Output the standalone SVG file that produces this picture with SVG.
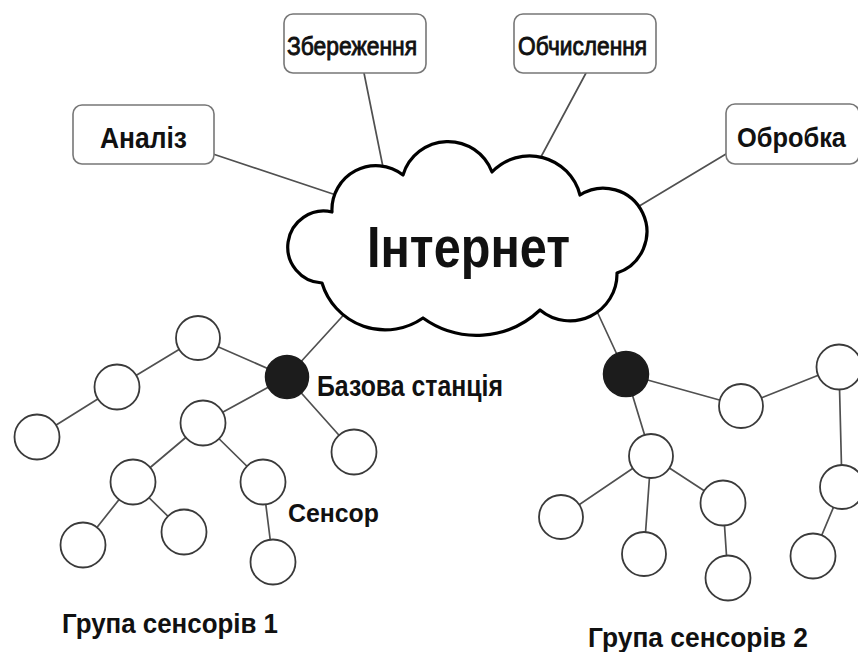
<svg xmlns="http://www.w3.org/2000/svg" width="858" height="652" viewBox="0 0 858 652">
  <style>
    .box { fill: #ffffff; stroke: #777777; stroke-width: 1.6; }
    .link { stroke: #505050; stroke-width: 1.7; fill: none; stroke-linecap: round; }
    .sensor { fill: #ffffff; stroke: #3a3a3a; stroke-width: 1.8; }
    .base { fill: #1c1c1c; stroke: #1c1c1c; stroke-width: 1.5; }
    .cloud { fill: #ffffff; stroke: #000000; stroke-width: 3.2; stroke-linejoin: round; }
    .lbl { font-family: "Liberation Sans Narrow", "Liberation Sans", Arial, sans-serif; font-weight: bold; fill: #111111; }
    .lbl-light { font-family: "Liberation Sans Narrow", "Liberation Sans", Arial, sans-serif; font-weight: normal; fill: #111111; stroke: #111111; stroke-width: 0.9; }
  </style>

  <!-- connectors -->
  <g id="connectors">
    <!-- services to cloud -->
    <line class="link" x1="213" y1="154" x2="345" y2="198"/>
    <line class="link" x1="364" y1="73" x2="386" y2="182"/>
    <line class="link" x1="586" y1="73" x2="535" y2="168"/>
    <line class="link" x1="726" y1="154" x2="626" y2="214"/>
    <!-- base stations to cloud -->
    <line class="link" x1="287" y1="377" x2="350" y2="308"/>
    <line class="link" x1="626" y1="374" x2="588" y2="292"/>
    <!-- sensor group 1 -->
    <line class="link" x1="198" y1="338" x2="117" y2="387"/>
    <line class="link" x1="198" y1="338" x2="287" y2="377"/>
    <line class="link" x1="117" y1="387" x2="37" y2="437"/>
    <line class="link" x1="287" y1="377" x2="203" y2="423"/>
    <line class="link" x1="287" y1="377" x2="354" y2="452"/>
    <line class="link" x1="203" y1="423" x2="133" y2="482"/>
    <line class="link" x1="203" y1="423" x2="263" y2="482"/>
    <line class="link" x1="133" y1="482" x2="83" y2="545"/>
    <line class="link" x1="133" y1="482" x2="184" y2="532"/>
    <line class="link" x1="263" y1="482" x2="273" y2="562"/>
    <!-- sensor group 2 -->
    <line class="link" x1="626" y1="374" x2="741" y2="406"/>
    <line class="link" x1="741" y1="406" x2="839" y2="367"/>
    <line class="link" x1="626" y1="374" x2="651" y2="456"/>
    <line class="link" x1="651" y1="456" x2="561" y2="517"/>
    <line class="link" x1="651" y1="456" x2="644" y2="554"/>
    <line class="link" x1="651" y1="456" x2="723" y2="503"/>
    <line class="link" x1="723" y1="503" x2="728" y2="578"/>
    <line class="link" x1="839" y1="367" x2="842" y2="487"/>
    <line class="link" x1="842" y1="487" x2="813" y2="556"/>
  </g>

  <!-- internet cloud -->
  <g id="internet">
    <path class="cloud" d="M 332 212 A 44 44 0 0 1 403 175 A 47 47 0 0 1 492 172 A 52 52 0 0 1 580 195 A 43.5 43.5 0 1 1 617 273 A 47 47 0 0 1 540 310 A 92 92 0 0 1 423 318 A 66 66 0 0 1 322 283 A 36 36 0 1 1 332 212 Z"/>
    <text class="lbl" x="367" y="267" font-size="58" textLength="203" lengthAdjust="spacingAndGlyphs">Інтернет</text>
  </g>

  <!-- service boxes -->
  <g id="analysis">
    <rect class="box" x="73" y="105" width="141" height="59" rx="9"/>
    <text class="lbl" x="100" y="148" font-size="29" textLength="87" lengthAdjust="spacingAndGlyphs">Аналіз</text>
  </g>
  <g id="storage">
    <rect class="box" x="284" y="14" width="142" height="59" rx="9"/>
    <text class="lbl-light" x="287" y="55" font-size="26" textLength="130" lengthAdjust="spacingAndGlyphs">Збереження</text>
  </g>
  <g id="computing">
    <rect class="box" x="514" y="14" width="142" height="59" rx="9"/>
    <text class="lbl-light" x="518" y="55" font-size="26" textLength="129" lengthAdjust="spacingAndGlyphs">Обчислення</text>
  </g>
  <g id="processing">
    <rect class="box" x="726" y="104" width="133" height="60" rx="9"/>
    <text class="lbl" x="737" y="147" font-size="27.5" textLength="109" lengthAdjust="spacingAndGlyphs">Обробка</text>
  </g>

  <!-- sensor group 1 -->
  <g id="group1">
    <circle class="sensor" cx="198" cy="338" r="22"/>
    <circle class="sensor" cx="117" cy="387" r="22.5"/>
    <circle class="sensor" cx="37" cy="437" r="22.5"/>
    <circle class="sensor" cx="203" cy="423" r="22.5"/>
    <circle class="sensor" cx="354" cy="452" r="22.5"/>
    <circle class="sensor" cx="133" cy="482" r="22.5"/>
    <circle class="sensor" cx="263" cy="482" r="22.5"/>
    <circle class="sensor" cx="83" cy="545" r="22.5"/>
    <circle class="sensor" cx="184" cy="532" r="22.5"/>
    <circle class="sensor" cx="273" cy="562" r="22.5"/>
  </g>
  <g id="base1">
    <circle class="base" cx="287" cy="377" r="21.5"/>
  </g>

  <!-- sensor group 2 -->
  <g id="group2">
    <circle class="sensor" cx="741" cy="406" r="22"/>
    <circle class="sensor" cx="839" cy="367" r="22.5"/>
    <circle class="sensor" cx="651" cy="456" r="22"/>
    <circle class="sensor" cx="561" cy="517" r="22"/>
    <circle class="sensor" cx="644" cy="554" r="22"/>
    <circle class="sensor" cx="723" cy="503" r="22.5"/>
    <circle class="sensor" cx="728" cy="578" r="22.5"/>
    <circle class="sensor" cx="842" cy="487" r="22"/>
    <circle class="sensor" cx="813" cy="556" r="22.5"/>
  </g>
  <g id="base2">
    <circle class="base" cx="626" cy="374" r="22.5"/>
  </g>

  <!-- labels -->
  <g id="labels">
    <text class="lbl" x="317" y="396" font-size="29" textLength="186" lengthAdjust="spacingAndGlyphs">Базова станція</text>
    <text class="lbl" x="288" y="522" font-size="25" textLength="91" lengthAdjust="spacingAndGlyphs">Сенсор</text>
    <text class="lbl" x="62" y="633" font-size="27" textLength="216" lengthAdjust="spacingAndGlyphs">Група сенсорів 1</text>
    <text class="lbl" x="588" y="647" font-size="27" textLength="220" lengthAdjust="spacingAndGlyphs">Група сенсорів 2</text>
  </g>
</svg>
